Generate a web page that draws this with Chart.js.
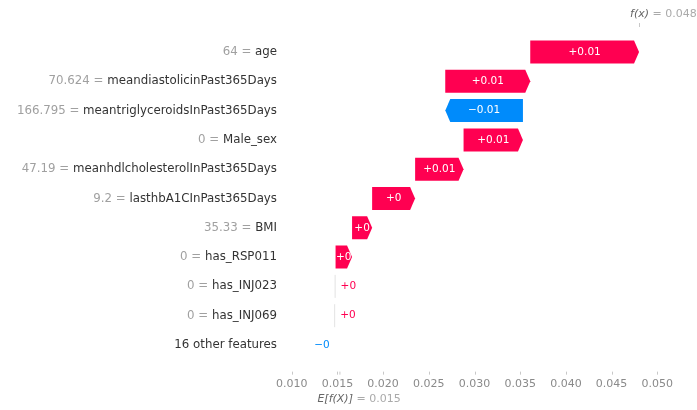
<!DOCTYPE html>
<html>
<head>
<meta charset="utf-8">
<script src="https://cdn.jsdelivr.net/npm/chart.js@4"></script>
<style>
  body { margin: 0; background: #fff; }
  #wrap { width: 697px; height: 410px; position: relative; }
</style>
</head>
<body>
<div id="wrap"><canvas id="waterfall"></canvas></div>
<script>
// shap waterfall for one patient
const features = ['age', 'meandiastolicinPast365Days', 'meantriglyceroidsInPast365Days', 'Male_sex',
  'meanhdlcholesterolInPast365Days', 'lasthbA1CInPast365Days', 'BMI', 'has_RSP011', 'has_INJ023',
  'has_INJ069', '16 other features'];
const featureValues = ['64', '70.624', '166.795', '0', '47.19', '9.2', '35.33', '0', '0', '0', ''];
const shapValues = [0.0119, 0.0093, -0.0085, 0.0065, 0.0053, 0.0047, 0.0022, 0.0018, 0.00005, 0.00005, -0.0003];
const barLabels = ['+0.01', '+0.01', '\u22120.01', '+0.01', '+0.01', '+0', '+0', '+0', '+0', '+0', '\u22120'];
const baseValue = 0.015;
const xTicks = [0.010, 0.015, 0.020, 0.025, 0.030, 0.035, 0.040, 0.045, 0.050];

const RED = '#ff0051';
const BLUE = '#008bfb';
const FONT = '"DejaVu Sans", sans-serif';

// accumulate from the bottom row up
const ranges = new Array(features.length);
let cum = baseValue;
for (let i = features.length - 1; i >= 0; i--) {
  ranges[i] = [cum, cum + shapValues[i]];
  cum += shapValues[i];
}
const fx = cum;

const arrows = {
  id: 'arrows',
  afterDatasetsDraw(chart) {
    const ctx = chart.ctx;
    const meta = chart.getDatasetMeta(0);
    ctx.save();
    meta.data.forEach((bar, i) => {
      const p = bar.getProps(['x', 'base', 'y', 'height'], true);
      const left = Math.min(p.x, p.base), right = Math.max(p.x, p.base);
      const w = right - left;
      const hl = Math.min(5, w);
      const top = p.y - p.height / 2, bot = p.y + p.height / 2;
      const pos = shapValues[i] >= 0;
      if (w >= 5) {
        ctx.fillStyle = pos ? RED : BLUE;
        ctx.beginPath();
        if (pos) {
          ctx.moveTo(left, top); ctx.lineTo(right - hl, top); ctx.lineTo(right, p.y);
          ctx.lineTo(right - hl, bot); ctx.lineTo(left, bot);
        } else {
          ctx.moveTo(right, top); ctx.lineTo(left + hl, top); ctx.lineTo(left, p.y);
          ctx.lineTo(left + hl, bot); ctx.lineTo(right, bot);
        }
        ctx.closePath();
        ctx.fill();
      } else if (pos) {
        // too small to see, just a faint trace
        ctx.strokeStyle = 'rgba(200,200,200,0.5)';
        ctx.lineWidth = 1;
        ctx.beginPath(); ctx.moveTo(left, top); ctx.lineTo(left, bot); ctx.stroke();
      }

      ctx.font = '10.5px ' + FONT;
      ctx.textBaseline = 'middle';
      if (w > 14) {
        ctx.fillStyle = '#fff';
        ctx.textAlign = 'center';
        ctx.fillText(barLabels[i], (left + right) / 2, p.y);
      } else if (pos) {
        ctx.fillStyle = RED;
        ctx.textAlign = 'left';
        ctx.fillText(barLabels[i], right + 5, p.y);
      } else {
        ctx.fillStyle = BLUE;
        ctx.textAlign = 'right';
        ctx.fillText(barLabels[i], left - 5, p.y);
      }
    });
    ctx.restore();
  },
  afterDraw(chart) {
    const ctx = chart.ctx;
    const xs = chart.scales.x, ys = chart.scales.y;
    const area = chart.chartArea;
    ctx.save();
    // feature labels: "value = name"
    ctx.font = '11.8px ' + FONT;
    ctx.textBaseline = 'middle';
    ctx.textAlign = 'left';
    features.forEach((name, i) => {
      const y = ys.getPixelForValue(i);
      const xr = area.left - 1;
      const nameW = ctx.measureText(name).width;
      ctx.fillStyle = '#333';
      ctx.fillText(name, xr - nameW, y);
      if (featureValues[i] !== '') {
        const pre = featureValues[i] + ' = ';
        const preW = ctx.measureText(pre).width;
        ctx.fillStyle = '#a0a0a0';
        ctx.fillText(pre, xr - nameW - preW, y);
      }
    });
    // small tick marks under the axis
    ctx.strokeStyle = '#c8c8c8';
    ctx.lineWidth = 1;
    xTicks.forEach(v => {
      const x = Math.round(xs.getPixelForValue(v)) + 0.5;
      ctx.beginPath(); ctx.moveTo(x, area.bottom + 12); ctx.lineTo(x, area.bottom + 15); ctx.stroke();
    });
    const bx = xs.getPixelForValue(baseValue);
    ctx.beginPath(); ctx.moveTo(bx + 2.5, area.bottom + 12); ctx.lineTo(bx + 2.5, area.bottom + 15); ctx.stroke();

    // f(x) at the top
    const fxp = xs.getPixelForValue(fx);
    ctx.beginPath(); ctx.moveTo(Math.round(fxp) + 0.5, 23); ctx.lineTo(Math.round(fxp) + 0.5, 27); ctx.stroke();
    ctx.font = 'italic 11px ' + FONT;
    ctx.textAlign = 'left';
    ctx.fillStyle = '#666';
    ctx.fillText('f(x)', fxp - 9, 14);
    let w = ctx.measureText('f(x)').width;
    ctx.font = '11px ' + FONT;
    ctx.fillStyle = '#aaa';
    ctx.fillText(' = ' + fx.toFixed(3), fxp - 9 + w, 14);

    // E[f(X)] at the bottom
    ctx.font = 'italic 11px ' + FONT;
    ctx.fillStyle = '#666';
    ctx.fillText('E[f(X)]', bx - 20, 399);
    w = ctx.measureText('E[f(X)]').width;
    ctx.font = '11px ' + FONT;
    ctx.fillStyle = '#aaa';
    ctx.fillText(' = ' + baseValue.toFixed(3), bx - 20 + w, 399);
    ctx.restore();
  }
};

new Chart(document.getElementById('waterfall'), {
  type: 'bar',
  data: {
    labels: features,
    datasets: [{
      data: ranges,
      backgroundColor: 'rgba(0,0,0,0)',
      borderWidth: 0,
      barPercentage: 0.785,
      categoryPercentage: 1
    }]
  },
  options: {
    indexAxis: 'y',
    responsive: true,
    maintainAspectRatio: false,
    animation: false,
    layout: { padding: { top: 37.35, right: 21.4, left: 0, bottom: 0 } },
    plugins: { legend: { display: false }, tooltip: { enabled: false } },
    scales: {
      x: {
        type: 'linear',
        min: 0.0085,
        max: 0.052,
        afterBuildTicks: s => { s.ticks = xTicks.map(v => ({ value: v })); },
        afterFit: s => { s.height = 50.35; },
        grid: { display: false, drawTicks: false },
        border: { display: false },
        ticks: {
          padding: 18,
          color: '#8a8a8a',
          font: { family: FONT, size: 11 },
          callback: v => v.toFixed(3)
        }
      },
      y: {
        afterFit: s => { s.width = 278; },
        grid: { display: false },
        border: { display: false },
        ticks: { display: false }
      }
    }
  },
  plugins: [arrows]
});
</script>
</body>
</html>
